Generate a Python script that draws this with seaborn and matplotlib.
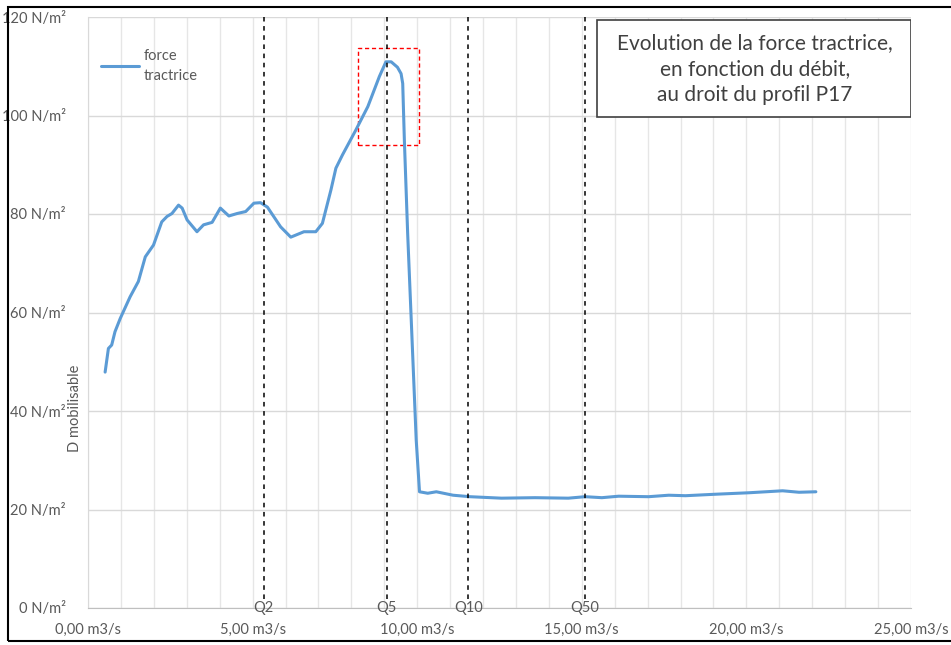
import numpy as np
import pandas as pd
import seaborn as sns
import matplotlib.pyplot as plt
from matplotlib.patches import Rectangle

# Data (débit in m3/s, force tractrice in N/m²)
debit = [0.52, 0.62, 0.72, 0.82, 0.98, 1.28, 1.53, 1.74, 1.99, 2.24, 2.40, 2.55,
         2.75, 2.86, 3.01, 3.31, 3.51, 3.77, 4.02, 4.28, 4.53, 4.79, 5.04, 5.24,
         5.45, 5.85, 6.16, 6.56, 6.92, 7.12, 7.38, 7.53, 7.73, 8.14, 8.50, 8.85,
         9.05, 9.21, 9.40, 9.51, 9.56, 9.61, 9.71, 9.97, 10.07, 10.32, 10.58, 11.09,
         11.60, 12.56, 13.58, 14.59, 15.10, 15.61, 16.12, 17.03, 17.64, 18.15,
         19.06, 20.08, 21.10, 21.60, 22.11]
force = [47.9, 52.7, 53.4, 56.1, 58.8, 63.2, 66.3, 71.3, 73.7, 78.4, 79.5, 80.1,
         81.8, 81.2, 78.8, 76.4, 77.8, 78.3, 81.2, 79.6, 80.1, 80.5, 82.2, 82.3,
         81.4, 77.4, 75.3, 76.4, 76.4, 78.1, 84.9, 89.3, 92.0, 97.1, 101.8, 107.9,
         110.9, 110.9, 109.8, 108.5, 106.5, 95.0, 76.1, 34.1, 23.6, 23.3, 23.6, 22.9,
         22.6, 22.3, 22.4, 22.3, 22.6, 22.4, 22.7, 22.6, 22.9, 22.8,
         23.1, 23.4, 23.8, 23.5, 23.6]

q_names = ["Q2", "Q5", "Q10", "Q50"]
q_debit = [5.34, 9.08, 11.55, 15.09]

x_ticks = [0, 5, 10, 15, 20, 25]
y_ticks = [0, 20, 40, 60, 80, 100, 120]

df = pd.DataFrame({"debit": debit, "force": force})

sns.set_style("white")
plt.rcParams["font.family"] = ["Lato", "DejaVu Sans"]
gray = "#595959"

fig = plt.figure(figsize=(9.51, 6.45), dpi=100)
ax = fig.add_axes([88 / 951, 37 / 645, 823 / 951, 591 / 645])

sns.lineplot(data=df, x="debit", y="force", ax=ax, color="#5B9BD5",
             linewidth=2.2, label="force\ntractrice", errorbar=None)

ax.set_xlim(0, 25)
ax.set_ylim(0, 120)
ax.set_xticks(x_ticks)
ax.set_xticklabels([f"{v:.2f}".replace(".", ",") + " m3/s" for v in x_ticks])
ax.set_yticks(y_ticks)
ax.set_yticklabels([f"{v} N/m²" for v in y_ticks])
ax.set_xticks(np.arange(0, 26, 1), minor=True)
ax.tick_params(axis="both", length=0, labelsize=10.5, colors=gray)
ax.tick_params(axis="x", pad=11)
ax.tick_params(axis="y", pad=16)
ax.grid(True, axis="y", color="#D9D9D9", lw=1)
ax.grid(True, axis="x", which="both", color="#E6E6E6", lw=1)
ax.set_axisbelow(True)
for s in ["top", "right"]:
    ax.spines[s].set_visible(False)
ax.spines["left"].set_color("#D9D9D9")
ax.spines["bottom"].set_color("#BFBFBF")
ax.set_xlabel("")
ax.set_ylabel("")

# Q lines
for name, q in zip(q_names, q_debit):
    ax.axvline(q, ymin=0.015, ymax=1.0, color="black", ls=(0, (3, 3)), lw=1.1)
    ax.text(q, 0, name, ha="center", va="center", fontsize=10.5, color=gray,
            zorder=5)

# red dashed box around the peak
ax.add_patch(Rectangle((8.21, 94.0), 1.84, 19.7, fill=False, ec="#FF0000",
                       ls=(0, (3, 2)), lw=1))

# title box
ax.add_patch(Rectangle((0.6185, 0.831), 0.382, 0.164, transform=ax.transAxes,
                       fill=True, fc="white", ec="#404040", lw=1.2, zorder=6))
ax.text(0.81, 0.912, "Evolution de la force tractrice,\nen fonction du débit,\nau droit du profil P17",
        transform=ax.transAxes, ha="center", va="center", fontsize=15,
        color="#404040", linespacing=1.35, zorder=7)

ax.text(-0.016, 0.338, "D mobilisable", transform=ax.transAxes, rotation=90,
        ha="center", va="center", fontsize=10.5, color=gray)

leg = ax.legend(loc="upper left", bbox_to_anchor=(0.0, 0.968), frameon=False,
                fontsize=10.5, handlelength=2.6, handletextpad=0.3,
                labelcolor=gray)
for t in leg.get_texts():
    t.set_linespacing(1.5)

# outer frame
fig.add_artist(Rectangle((8 / 951, 4 / 645), 2, 634 / 645, transform=fig.transFigure,
                         fill=False, ec="black", lw=1.5))

fig.savefig("out.png", dpi=100)
